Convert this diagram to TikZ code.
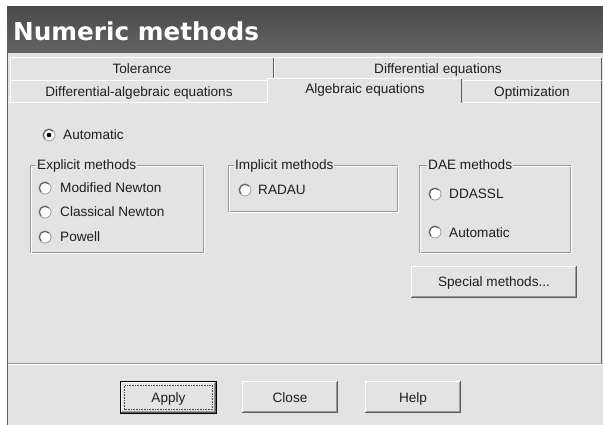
\documentclass[tikz,border=0pt]{standalone}
\usepackage{fontspec}
\setmainfont{Liberation Sans}
\newfontfamily\titlefont{DejaVu Sans}
\definecolor{bg}{HTML}{E3E3E3}
\definecolor{tbtop}{HTML}{4A4A4A}
\definecolor{tbbot}{HTML}{646464}
\definecolor{shadow}{HTML}{9A9A9A}
\definecolor{darkedge}{HTML}{5E5E5E}
\definecolor{txt}{HTML}{1E1E1E}
\newcommand\tabrect[4]{%
  \fill[bg] (#1,#2) rectangle (#3,#4);
  \draw[white, line width=1pt] (#1+0.5,#4) -- (#1+0.5,#2+0.5) -- (#3-1,#2+0.5);
  \draw[darkedge, line width=1pt] (#3-0.5,#2+1) -- (#3-0.5,#4);
}
\newcommand\grpbox[4]{%
  \draw[shadow, line width=1pt] (#1+0.5,#2+0.5) rectangle (#3-1.5,#4-1.5);
  \draw[white, line width=1pt] (#1+1.5,#2+1.5) rectangle (#3-0.5,#4-0.5);
}
\newcommand\bevel[4]{%
  \fill[bg] (#1,#2) rectangle (#3,#4);
  \draw[white, line width=1pt] (#1+0.5,#4-1) -- (#1+0.5,#2+0.5) -- (#3-1,#2+0.5);
  \draw[darkedge, line width=1pt] (#1,#4-0.5) -- (#3-0.5,#4-0.5) -- (#3-0.5,#2);
  \draw[shadow, line width=1pt] (#1+1,#4-1.5) -- (#3-1.5,#4-1.5) -- (#3-1.5,#2+1);
}
\tikzset{
  lbl/.style={font=\fontsize{13.6}{16}\selectfont, text=txt, inner sep=0pt},
  grplbl/.style={lbl, fill=bg, inner xsep=1pt, inner ysep=0pt, anchor=base west},
  radio/.style={circle, fill=white, draw=shadow, line width=0.8pt, minimum size=12pt, inner sep=0pt, outer sep=0pt},
  rtext/.style={lbl, anchor=base west},
}
\begin{document}
\begin{tikzpicture}[x=1pt,y=-1pt]
\useasboundingbox (0,0) rectangle (603,425);
\fill[white] (0,0) rectangle (603,425);
\fill[bg] (7,53) rectangle (603,425);
% title bar
\shade[top color=tbtop, bottom color=tbbot] (7,7) rectangle (603,53);
\node[anchor=base west, text=white, inner sep=0pt,
      font=\titlefont\bfseries\fontsize{24.7}{28}\selectfont] (title) at (13,41) {Numeric methods};
% window left edge
\draw[darkedge, line width=1pt] (7.5,53) -- (7.5,425);
% tabs row 1
\tabrect{10}{57}{274}{80}
\tabrect{274}{57}{602}{80}
\node[lbl, anchor=base] (ttol) at (142,74) {Tolerance};
\node[lbl, anchor=base] (tdiff) at (438,74) {Differential equations};
% tabs row 2
\tabrect{10}{80}{268}{102}
\tabrect{462}{80}{602}{102}
\node[lbl, anchor=base] (tdae) at (139,96.5) {Differential-algebraic equations};
\node[lbl, anchor=base] (topt) at (532,96.5) {Optimization};
% panel
\draw[white, line width=1pt] (8,102.5) -- (268,102.5);
\draw[white, line width=1pt] (462,102.5) -- (601,102.5);
\draw[darkedge, line width=1pt] (601.5,102) -- (601.5,364);
% selected tab
\fill[bg] (267,78) rectangle (463,103.5);
\draw[white, line width=1pt] (267.5,103) -- (267.5,78.5) -- (461,78.5);
\draw[darkedge, line width=1pt] (461.5,79) -- (461.5,103);
\node[lbl, anchor=base] (talg) at (365,94) {Algebraic equations};
% bottom separator
\draw[shadow, line width=1pt] (8,363.5) -- (603,363.5);
\draw[white, line width=1pt] (8,364.5) -- (603,364.5);
% automatic radio
\node[radio] (rauto) at (49,135) {};
\node[circle, fill=black, minimum size=4.6pt, inner sep=0pt] (rautodot) at (rauto.center) {};
\node[rtext] (tauto) at (63,140) {Automatic};
% explicit methods
\grpbox{30}{165}{205}{254}
\node[grplbl] (lexp) at (36,169.5) {Explicit methods};
\node[radio] (rmod) at (45,188) {};
\node[rtext] (tmod) at (60,193) {Modified Newton};
\node[radio] (rcla) at (45,212) {};
\node[rtext] (tcla) at (60,217) {Classical Newton};
\node[radio] (rpow) at (45,237) {};
\node[rtext] (tpow) at (60,241.5) {Powell};
% implicit methods
\grpbox{228}{165}{399}{213}
\node[grplbl] (limp) at (234,169.5) {Implicit methods};
\node[radio] (rrad) at (245,190) {};
\node[rtext] (trad) at (258,194.5) {RADAU};
% DAE methods
\grpbox{419}{165}{572}{254}
\node[grplbl] (ldae) at (427,169.5) {DAE methods};
\node[radio] (rdda) at (435,194) {};
\node[rtext] (tdda) at (449,199) {DDASSL};
\node[radio] (rdauto) at (435,232) {};
\node[rtext] (tdauto) at (449,237) {Automatic};
% sunken arcs on radios
\foreach \r in {rauto,rmod,rcla,rpow,rrad,rdda,rdauto}{
  \draw[darkedge, line width=1pt] (\r.center) ++(45:5.6pt) arc[start angle=45, end angle=225, radius=5.6pt];
}
% special methods button
\bevel{411}{266}{577}{298}
\node[lbl, anchor=base] (bspec) at (494,287) {Special methods...};
% bottom buttons
\bevel{121}{382}{216}{413}
\draw[black, line width=1pt] (120.5,381.5) rectangle (216.5,413.5);
\draw[black!70, line width=0.6pt, dash pattern=on 0.8pt off 0.8pt] (124.5,385.5) rectangle (212.5,409.5);
\node[lbl, anchor=base] (bapply) at (168.5,402) {Apply};
\bevel{242}{381}{338}{413}
\node[lbl, anchor=base] (bclose) at (290,402) {Close};
\bevel{365}{381}{461}{413}
\node[lbl, anchor=base] (bhelp) at (413,402) {Help};
\end{tikzpicture}
\end{document}
